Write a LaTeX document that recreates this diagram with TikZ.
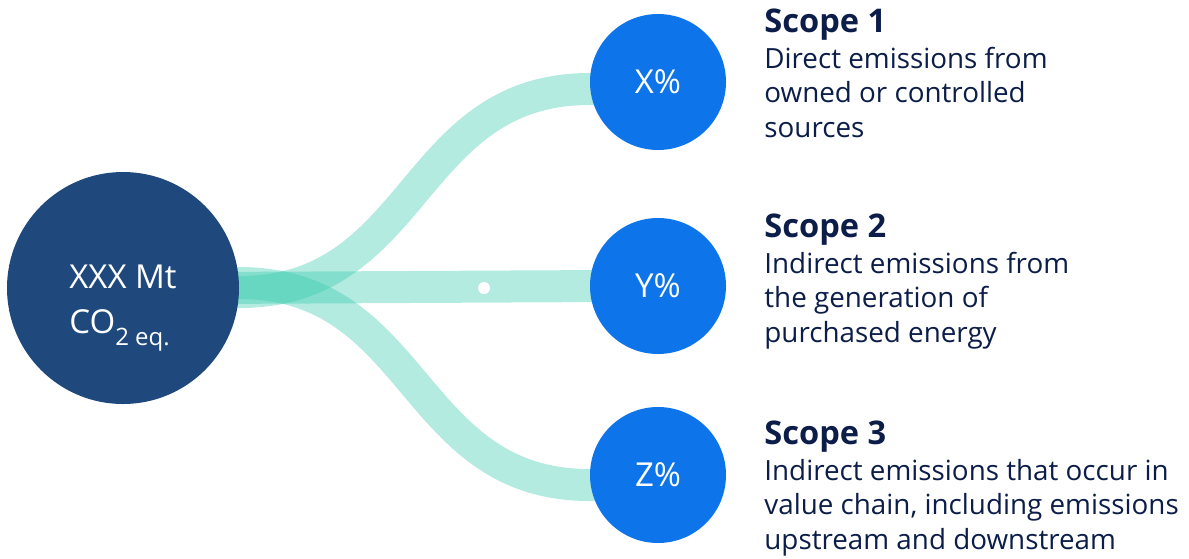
\documentclass[tikz,border=0pt]{standalone}
\usepackage{fontspec}
\setmainfont{Open Sans}
\usetikzlibrary{positioning, calc, backgrounds}
\definecolor{navy}{HTML}{1F497D}
\definecolor{brightblue}{HTML}{0E74EA}
\definecolor{ribbon}{HTML}{37CAAD}
\definecolor{ink}{HTML}{0B1D48}
\tikzset{
  total/.style={
    circle,
    fill=navy,
    minimum size=116pt,
    inner sep=0pt,
    text=white,
    font=\fontsize{16.5}{22.5}\selectfont
  },
  share/.style={
    circle,
    fill=brightblue,
    minimum size=68pt,
    inner sep=0pt,
    text=white,
    font=\fontsize{16.5}{20}\selectfont
  },
  band/.style={
    draw=ribbon,
    draw opacity=0.38,
    line width=16pt
  },
  scopedesc/.style={
    anchor=north west,
    inner sep=0pt,
    align=left,
    text=ink,
    font=\fontsize{13.9}{17.25}\selectfont
  },
  dot/.style={
    circle,
    fill=white,
    minimum size=6pt,
    inner sep=0pt
  }
}
\newcommand\scopehead[1]{{\fontsize{16.3}{18}\selectfont\bfseries #1}}
\newcommand\subtext[1]{\raisebox{-6pt}{\fontsize{12}{12}\selectfont #1}}
% text block set lower than the circle centre
\newcommand\lowered[1]{\raisebox{-8pt}[\height][\depth]{#1}}

\begin{document}
\begin{tikzpicture}[x=0.5pt, y=-0.5pt]
\useasboundingbox (0,0) rectangle (1189,558);

% circles
\node[total] (total) at (123,288)
  {\lowered{\begin{tabular}{@{}l@{}}XXX Mt\\CO\subtext{2 eq.}\end{tabular}}};
\node[share] (x) at (658,82)  {X\%};
\node[share] (y) at (658,286) {Y\%};
\node[share] (z) at (658,475) {Z\%};

% ribbons
\begin{scope}[on background layer]
\draw[band] ($(total.east)+(-30,4)$) -- ($(total.east)+(0,4)$)
  .. controls +(180,0) and +(-180,0) .. ($(x.west)+(0,7)$) -- +(20,0);
\draw[band] ($(total.east)+(-30,0)$) -- ($(y.west)+(20,0)$);
\draw[band] ($(total.east)+(-30,-5)$) -- ($(total.east)+(0,-5)$)
  .. controls +(180,0) and +(-180,0) .. ($(z.west)+(0,10)$) -- +(20,0);
\end{scope}
\node[dot] (mid) at (484,288) {};

% texts
\node[scopedesc] (d1) at (764,8)
  {\scopehead{Scope 1}\\[0.75pt]Direct emissions from\\owned or controlled\\sources};
\node[scopedesc] (d2) at (764,213)
  {\scopehead{Scope 2}\\[0.75pt]Indirect emissions from\\the generation of\\purchased energy};
\node[scopedesc] (d3) at (764,420)
  {\scopehead{Scope 3}\\[0.75pt]Indirect emissions that occur in\\value chain, including emissions\\upstream and downstream};
\end{tikzpicture}
\end{document}
